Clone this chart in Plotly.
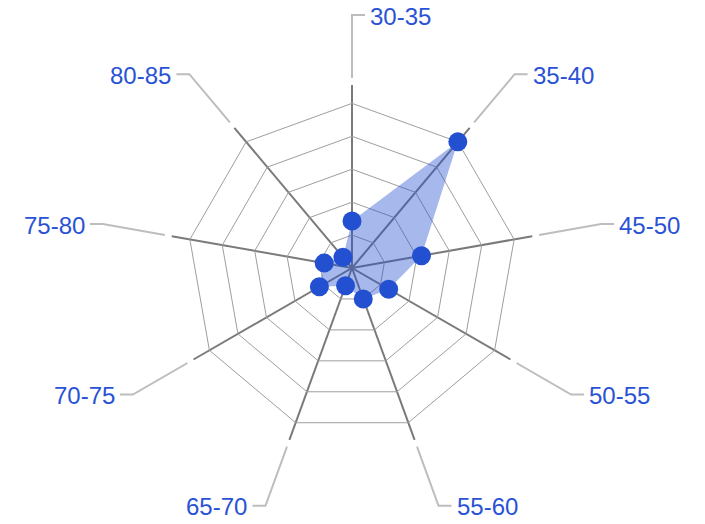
import math
import plotly.graph_objects as go

# ---- data ----
categories = ["30-35", "35-40", "45-50", "50-55", "55-60", "65-70", "70-75", "75-80", "80-85"]
values = [10, 35, 15, 9, 7, 4, 8, 6, 3]
radial_ticks = [7, 14, 21, 28, 35]
radial_max = 38.9

# ---- layout geometry (pixels) ----
W, H = 705, 524
CX, CY = 352, 268
R = 183
LEAD_START, LEAD_END, HOR_LEN, TEXT_GAP = 7, 70, 13, 4

blue = "#2350d0"
text_blue = "#2a52d4"

fig = go.Figure()
fig.add_trace(go.Scatterpolar(
    r=values, theta=categories, mode="markers", fill="toself",
    fillcolor="rgba(35,80,208,0.4)", line=dict(width=0, color=blue),
    marker=dict(size=19, color=blue), hoverinfo="skip", showlegend=False,
))

def px(x):
    return x / W

def py(y):
    return 1 - y / H

shapes, annotations = [], []
n = len(categories)
for i, cat in enumerate(categories):
    a = math.radians(360.0 * i / n)
    s, c = math.sin(a), math.cos(a)
    x1, y1 = CX + (R + LEAD_START) * s, CY - (R + LEAD_START) * c
    x2, y2 = CX + (R + LEAD_END) * s, CY - (R + LEAD_END) * c
    right = s >= -1e-9
    d = 1 if right else -1
    x3 = x2 + d * HOR_LEN
    shapes.append(dict(
        type="path", xref="paper", yref="paper",
        path=f"M {px(x1)} {py(y1)} L {px(x2)} {py(y2)} L {px(x3)} {py(y2)}",
        line=dict(color="#bdbdbd", width=2),
    ))
    annotations.append(dict(
        text=cat, xref="paper", yref="paper", x=px(x3 + d * TEXT_GAP), y=py(y2 + 1),
        xanchor="left" if right else "right", yanchor="middle", showarrow=False,
        font=dict(family="Liberation Sans, Arial, sans-serif", size=24, color=text_blue),
        borderpad=0,
    ))

fig.update_layout(
    width=W, height=H, margin=dict(l=0, r=0, t=0, b=0),
    paper_bgcolor="white", plot_bgcolor="white",
    polar=dict(
        domain=dict(x=[px(CX - R), px(CX + R)], y=[py(CY + R), py(CY - R)]),
        bgcolor="white", gridshape="linear",
        angularaxis=dict(
            type="category", categoryarray=categories, rotation=90, direction="clockwise",
            showticklabels=False, ticks="", showline=False,
            showgrid=True, gridcolor="#7a7a7a", gridwidth=2,
        ),
        radialaxis=dict(
            range=[0, radial_max], tickvals=radial_ticks, showticklabels=False, ticks="",
            showline=False, showgrid=True, gridcolor="#9e9e9e", gridwidth=1,
        ),
    ),
    shapes=shapes, annotations=annotations,
)

fig.write_html(
    "out.html",
    config={"displayModeBar": False},
    post_script="document.body.style.margin='0';document.body.style.overflow='hidden';",
)
